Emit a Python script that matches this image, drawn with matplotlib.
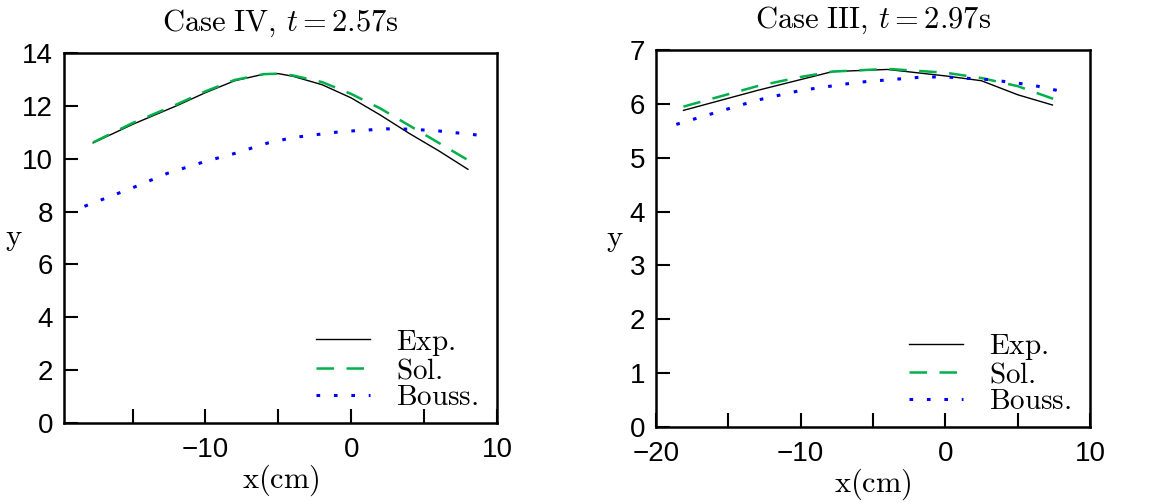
import matplotlib
matplotlib.use("Agg")
import matplotlib.pyplot as plt
from matplotlib.ticker import MultipleLocator

plt.rcParams['font.family'] = ['Liberation Sans', 'DejaVu Sans']
plt.rcParams['mathtext.fontset'] = 'cm'

# Case IV, t = 2.57s
x4_exp = [-17.7, -15, -12, -10, -8, -6, -5, -4, -2, 0, 2, 4, 6, 8]
y4_exp = [10.6, 11.3, 12.0, 12.5, 12.95, 13.2, 13.22, 13.12, 12.8, 12.3, 11.65, 10.95, 10.3, 9.6]
x4_sol = [-17.7, -15, -12, -10, -8, -6, -5, -4, -2, 0, 2, 4, 6, 8]
y4_sol = [10.62, 11.35, 12.05, 12.55, 12.98, 13.2, 13.22, 13.15, 12.9, 12.45, 11.9, 11.25, 10.6, 9.95]
x4_bou = [-18.3, -15, -12.6, -10, -8, -5.7, -4, -1.1, 0, 2.4, 4, 6, 8.6]
y4_bou = [8.2, 8.9, 9.45, 9.9, 10.2, 10.6, 10.8, 11.0, 11.05, 11.13, 11.12, 11.05, 10.9]

# Case III, t = 2.97s
x3_exp = [-18.1, -13, -7.8, -4, 0, 2.5, 5, 7.4]
y3_exp = [5.88, 6.25, 6.6, 6.64, 6.52, 6.43, 6.17, 5.98]
x3_sol = [-18.1, -13, -10, -7.8, -4, 0, 2.5, 5, 7.6]
y3_sol = [5.95, 6.33, 6.5, 6.6, 6.65, 6.58, 6.48, 6.33, 6.08]
x3_bou = [-18.6, -13.0, -10, -6.1, -1.5, 0, 3.1, 6, 8.6]
y3_bou = [5.62, 6.07, 6.25, 6.4, 6.5, 6.5, 6.45, 6.35, 6.2]

labels = ['$\\mathrm{Exp.}$', '$\\mathrm{Sol.}$', '$\\mathrm{Bouss.}$']
green = '#00b04a'
blue = '#0000ff'

fig = plt.figure(figsize=(11.56, 5.03), dpi=100)
ax1 = fig.add_axes([0.0554, 0.159, 0.3746, 0.7356])
ax2 = fig.add_axes([0.5675, 0.151, 0.3754, 0.7495])


def draw(ax, xe, ye, xs, ys, xb, yb, title, xlim, ylim, ystep, ylx):
    ax.plot(xe, ye, color='black', lw=1.0, label=labels[0])
    ax.plot(xs, ys, color=green, lw=1.8, linestyle=(0, (7, 5)), label=labels[1])
    ax.plot(xb, yb, color=blue, lw=2.2, linestyle=(0, (1.2, 4.5)), label=labels[2])
    ax.set_xlim(*xlim)
    ax.set_ylim(*ylim)
    ax.xaxis.set_major_locator(MultipleLocator(10))
    ax.xaxis.set_minor_locator(MultipleLocator(5))
    ax.yaxis.set_major_locator(MultipleLocator(ystep))
    ax.tick_params(which='both', direction='in', length=10, width=1.5,
                   top=False, right=False, labelsize=20)
    ax.tick_params(axis='x', pad=10)
    ax.tick_params(axis='y', pad=8)
    for s in ax.spines.values():
        s.set_linewidth(1.8)
    ax.set_title(title, fontsize=22, pad=16)
    ax.set_xlabel('$\\mathrm{x(cm)}$', fontsize=22, labelpad=0)
    ax.set_ylabel('$\\mathrm{y}$', fontsize=22, rotation=0)
    ax.yaxis.set_label_coords(ylx, 0.46)
    ax.legend(loc='lower right', bbox_to_anchor=(1.01, -0.03), frameon=False,
              fontsize=21, handlelength=1.85, handletextpad=0.9,
              labelspacing=-0.05, borderpad=0.3)


draw(ax1, x4_exp, y4_exp, x4_sol, y4_sol, x4_bou, y4_bou,
     '$\\mathrm{Case\\ IV},\\, t = 2.57\\mathrm{s}$', (-19.7, 10), (0, 14), 2, -0.115)
draw(ax2, x3_exp, y3_exp, x3_sol, y3_sol, x3_bou, y3_bou,
     '$\\mathrm{Case\\ III},\\, t = 2.97\\mathrm{s}$', (-20, 10), (0, 7), 1, -0.094)

fig.savefig('out.png', dpi=100)
